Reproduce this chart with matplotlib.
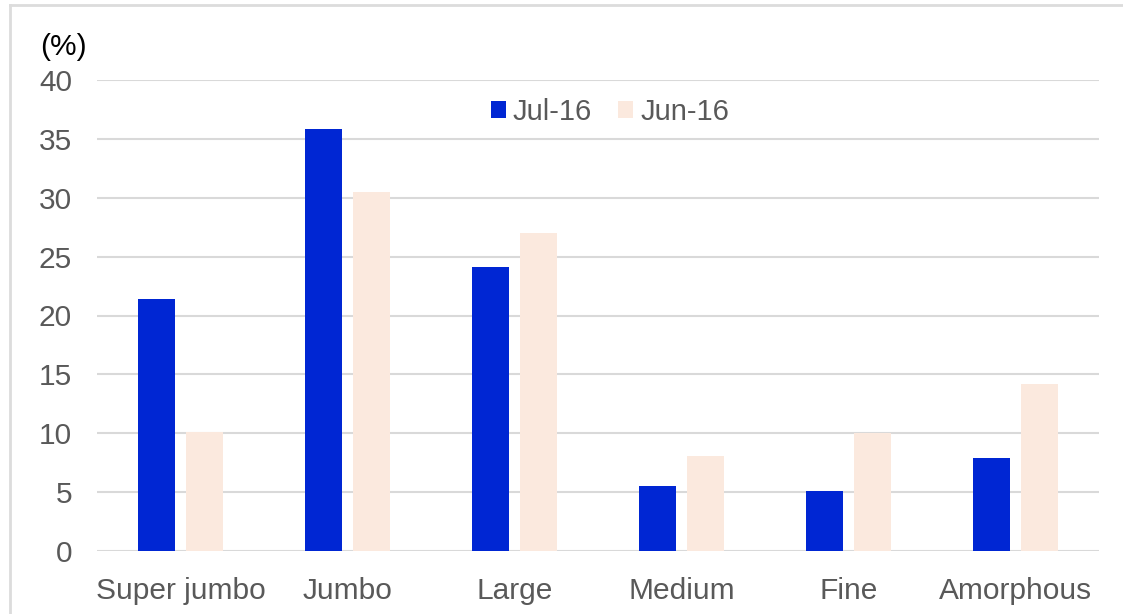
import numpy as np
import matplotlib
matplotlib.use("Agg")
import matplotlib.pyplot as plt
from matplotlib.lines import Line2D

categories = ["Super jumbo", "Jumbo", "Large", "Medium", "Fine", "Amorphous"]
jul16 = [21.4, 35.8, 24.1, 5.5, 5.1, 7.9]
jun16 = [10.1, 30.5, 27.0, 8.1, 10.0, 14.2]
yticks = [0, 5, 10, 15, 20, 25, 30, 35, 40]

BLUE = "#0026d3"
PINK = "#fbe9de"
GRID = "#d9d9d9"
TEXT = "#595959"
FS = 21.5

plt.rcParams["font.family"] = ["Liberation Sans", "DejaVu Sans"]

fig = plt.figure(figsize=(11.23, 6.14), dpi=100)
ax = fig.add_axes([97 / 1123, 1 - 551 / 614, 1002 / 1123, 471 / 614])

x = np.arange(len(categories))
w = 0.222
ax.bar(x - 0.143, jul16, width=w, color=BLUE, label="Jul-16", zorder=3)
ax.bar(x + 0.143, jun16, width=w, color=PINK, label="Jun-16", zorder=3)

ax.set_xlim(-0.5, len(categories) - 0.5)
ax.set_ylim(0, 40)
ax.set_yticks(yticks)
ax.set_xticks(x)
ax.set_xticklabels(categories)
ax.tick_params(axis="y", length=0, pad=18, labelsize=FS, labelcolor=TEXT)
ax.tick_params(axis="x", length=0, pad=19, labelsize=FS, labelcolor=TEXT)
ax.grid(axis="y", color=GRID, lw=1.5, zorder=0)
for s in ax.spines.values():
    s.set_visible(False)

ax.text(-0.033, 1.070, "(%)", transform=ax.transAxes, fontsize=FS, color="black",
        ha="center", va="center")

ax.legend(loc="center", bbox_to_anchor=(0.512, 0.932), ncol=2, frameon=False,
          fontsize=21, labelcolor=TEXT, handlelength=0.5, handleheight=0.5,
          handletextpad=0.25, columnspacing=0.9)

# light frame around the chart
fig.add_artist(Line2D([10 / 1123, 1.0], [1 - 4.5 / 614] * 2, color="#dcdcdc", lw=2))
fig.add_artist(Line2D([10 / 1123] * 2, [0, 1 - 4.5 / 614], color="#dcdcdc", lw=2))

fig.savefig("out.png", dpi=100)
